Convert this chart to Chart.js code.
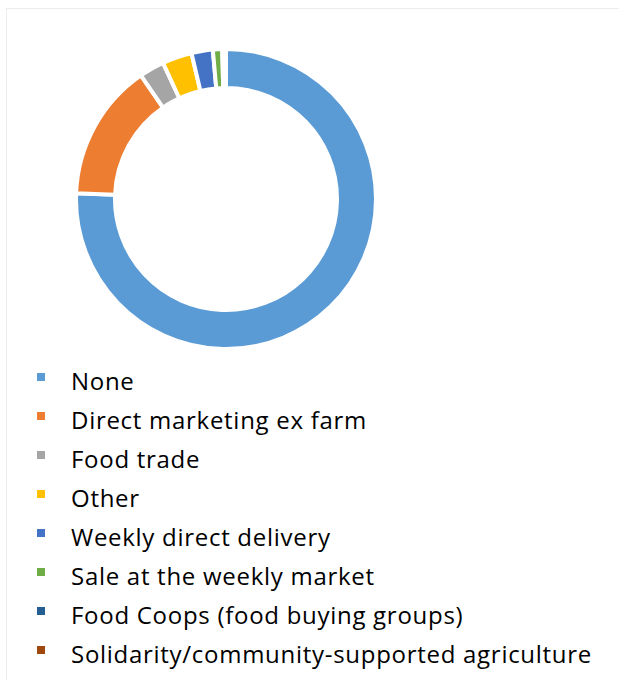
<!DOCTYPE html>
<html>
<head>
<meta charset="utf-8">
<script src="https://cdn.jsdelivr.net/npm/chart.js@4"></script>
<style>
  body { margin: 0; background: #fff; width: 619px; height: 680px; overflow: hidden; position: relative; font-family: "Open Sans", sans-serif; }
  #frame { position: absolute; left: 6px; top: 8px; width: 660px; height: 700px; border: 1px solid #ededed; }
  #wrap { position: absolute; left: 73px; top: 47px; width: 306px; height: 304px; }
  #legend { position: absolute; left: 0; top: 361px; list-style: none; margin: 0; padding: 0; }
  #legend li { position: relative; height: 39px; line-height: 39px; font-size: 24px; color: #000; padding-left: 71px; white-space: nowrap; }
  #legend span { position: absolute; left: 37px; top: 12px; width: 8px; height: 8px; }
</style>
</head>
<body>
<div id="frame"></div>
<div id="wrap"><canvas id="chart"></canvas></div>
<ul id="legend"></ul>
<script>
const labels = ['None', 'Direct marketing ex farm', 'Food trade', 'Other', 'Weekly direct delivery',
  'Sale at the weekly market', 'Food Coops (food buying groups)', 'Solidarity/community-supported agriculture'];
const shares = [75.6, 14.8, 2.7, 3.2, 2.3, 1.0, 0.2, 0.2];
const colors = ['#5B9BD5', '#ED7D31', '#A5A5A5', '#FFC000', '#4472C4', '#70AD47', '#255E91', '#9E480E'];

const chart = document.querySelector('#chart').getContext('2d');

new Chart(chart, {
  type: 'doughnut',
  data: {
    labels: labels,
    datasets: [{
      data: shares,
      backgroundColor: colors,
      borderColor: '#ffffff',
      borderWidth: 4,
      hoverOffset: 0
    }]
  },
  options: {
    responsive: true,
    maintainAspectRatio: false,
    animation: false,
    cutout: '74%',
    layout: { padding: 0 },
    plugins: {
      legend: { display: false },
      tooltip: { enabled: false }
    }
  }
});

// legend below the ring, one entry per line
const legend = document.querySelector('#legend');

// stretch letters a bit so the longest line ends where the original does (~592px)
const m = document.createElement('canvas').getContext('2d');
m.font = '24px "Open Sans"';
const longest = labels[labels.length - 1];
const spacing = (521 - m.measureText(longest).width) / longest.length;

labels.forEach((name, i) => {
  const li = document.createElement('li');
  li.style.letterSpacing = spacing + 'px';
  const box = document.createElement('span');
  box.style.background = colors[i];
  li.appendChild(box);
  li.appendChild(document.createTextNode(name));
  legend.appendChild(li);
});
</script>
</body>
</html>
